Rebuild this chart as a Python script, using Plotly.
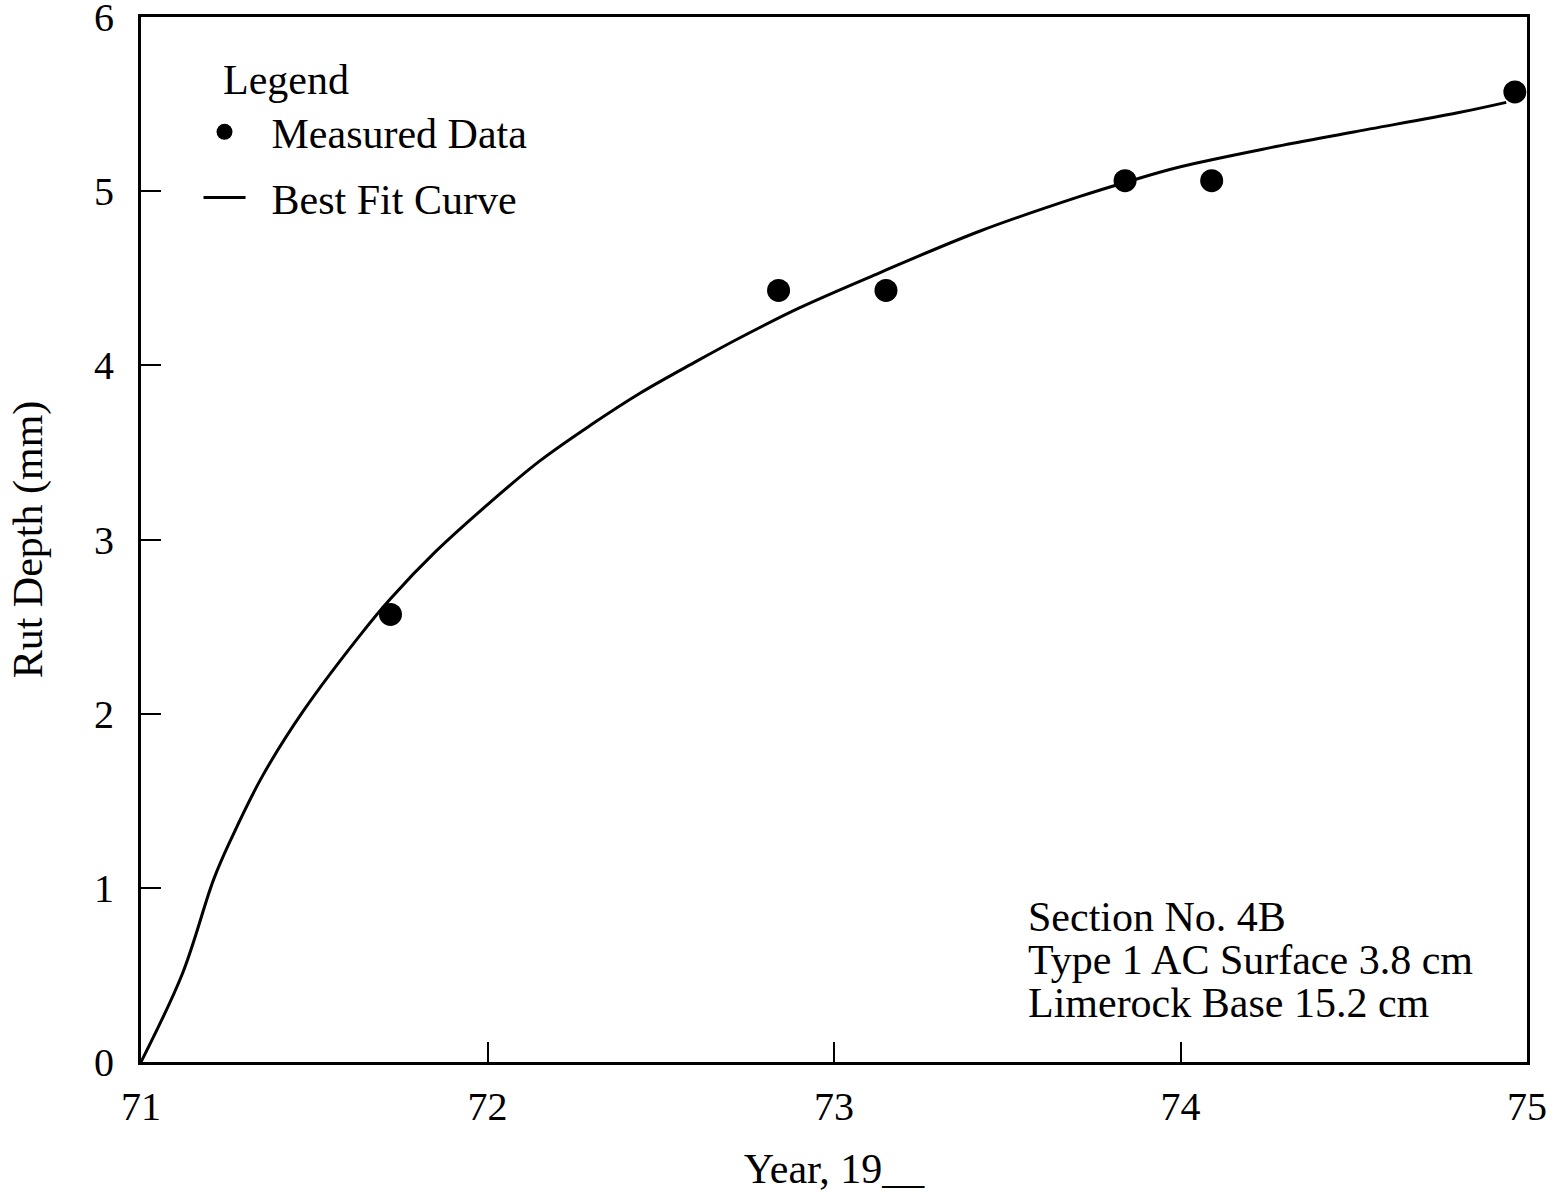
import plotly.graph_objects as go

# Measured data
meas_year = [71.72, 72.84, 73.15, 73.84, 74.09, 74.965]
meas_rut = [2.57, 4.43, 4.43, 5.06, 5.06, 5.57]

# Best fit curve
fit_year = [71.0, 71.12, 71.21, 71.26, 71.35, 71.47, 71.64, 71.72, 71.85, 72.0,
            72.15, 72.30, 72.44, 72.60, 72.73, 72.90, 73.13, 73.42, 73.71, 73.84,
            74.0, 74.26, 74.5, 74.8, 74.94]
fit_rut = [0.0, 0.51, 1.05, 1.28, 1.64, 2.02, 2.47, 2.66, 2.93, 3.20,
           3.45, 3.66, 3.84, 4.02, 4.16, 4.33, 4.53, 4.77, 4.97, 5.05,
           5.14, 5.25, 5.34, 5.45, 5.51]

x_ticks = [71, 72, 73, 74, 75]
y_ticks = [0, 1, 2, 3, 4, 5, 6]

section_lines = ["Section No. 4B", "Type 1 AC Surface 3.8 cm", "Limerock Base 15.2 cm"]

FONT = "Liberation Serif"
NB = "\u00a0\u00a0"

fig = go.Figure()
fig.add_trace(go.Scatter(
    x=meas_year, y=meas_rut, mode="markers", name=NB + "Measured Data",
    marker=dict(color="black", size=23), legendgroup="a", cliponaxis=False))
fig.add_trace(go.Scatter(
    x=fit_year, y=fit_rut, mode="lines", name=NB + "Best Fit Curve",
    line=dict(color="black", width=3, shape="spline", smoothing=1.0),
    legendgroup="b"))

fig.add_annotation(x=0.0577, y=0.9397, xref="paper", yref="paper", text="Legend",
                   showarrow=False, xanchor="left", yanchor="middle",
                   font=dict(family=FONT, size=42, color="black"))

for i, t in enumerate(section_lines):
    fig.add_annotation(x=0.6384, y=0.139 - i * 0.0415, xref="paper", yref="paper",
                       text=t, showarrow=False, xanchor="left", yanchor="middle",
                       font=dict(family=FONT, size=42, color="black"))

fig.update_layout(
    width=1562, height=1194,
    margin=dict(l=141, r=35, t=17, b=132),
    paper_bgcolor="white", plot_bgcolor="white",
    font=dict(family=FONT, color="black", size=40),
    showlegend=True,
    legend=dict(x=0.0415, y=0.9225, xanchor="left", yanchor="top", itemwidth=42,
                bgcolor="rgba(0,0,0,0)", traceorder="grouped", tracegroupgap=8,
                font=dict(family=FONT, size=42)),
    xaxis=dict(range=[71, 75], tickvals=x_ticks, ticks="inside", ticklen=20,
               tickwidth=2, tickcolor="black", showline=True, linewidth=3,
               linecolor="black", mirror=True, showgrid=False, zeroline=False,
               automargin=False, ticklabeloverflow="allow",
               tickfont=dict(family=FONT, size=40), ticklabelstandoff=7,
               title=dict(text="Year, 19__", font=dict(family=FONT, size=42), standoff=26)),
    yaxis=dict(range=[0, 6], tickvals=y_ticks, ticks="inside", ticklen=20,
               tickwidth=2, tickcolor="black", showline=True, linewidth=3,
               linecolor="black", mirror=True, showgrid=False, zeroline=False,
               automargin=False, ticklabeloverflow="allow",
               tickfont=dict(family=FONT, size=40), ticklabelstandoff=16,
               title=dict(text="Rut Depth (mm)", font=dict(family=FONT, size=42), standoff=39)),
)

fig.write_html("out.html", config={"displayModeBar": False},
               post_script="document.body.style.margin='0';")
